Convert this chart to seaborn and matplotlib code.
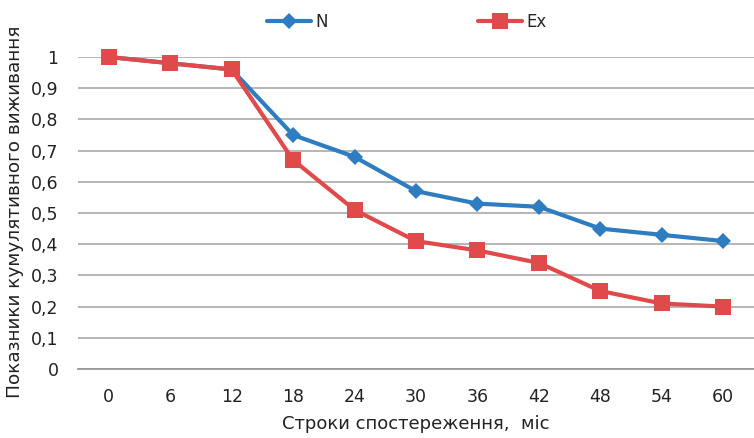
import matplotlib
matplotlib.use("Agg")
import matplotlib.pyplot as plt
import seaborn as sns
import pandas as pd
import numpy as np

months = ["0", "6", "12", "18", "24", "30", "36", "42", "48", "54", "60"]
n_values = [1.00, 0.98, 0.96, 0.75, 0.68, 0.57, 0.53, 0.52, 0.45, 0.43, 0.41]
ex_values = [1.00, 0.98, 0.96, 0.67, 0.51, 0.41, 0.38, 0.34, 0.25, 0.21, 0.20]
y_ticks = [0, 0.1, 0.2, 0.3, 0.4, 0.5, 0.6, 0.7, 0.8, 0.9, 1.0]
y_tick_labels = ["0", "0,1", "0,2", "0,3", "0,4", "0,5", "0,6", "0,7", "0,8", "0,9", "1"]

sns.set_theme(style="white")
plt.rcParams['font.family'] = ['DejaVu Sans']

pos = np.arange(len(months))
df = pd.DataFrame({"pos": np.concatenate([pos, pos]),
                   "val": n_values + ex_values,
                   "series": ["N"] * len(months) + ["Ex"] * len(months)})

fig = plt.figure(figsize=(7.54, 4.38), dpi=100)
ax = fig.add_axes([78/754, 1 - 369/438, 1 - 78/754, (369 - 57)/438])

blue = "#2D7DC0"
red = "#E04A4A"
sns.lineplot(data=df[df.series == "N"], x="pos", y="val", ax=ax, color=blue,
             linewidth=3, marker="D", markersize=8, markeredgewidth=0, label="N", clip_on=False)
sns.lineplot(data=df[df.series == "Ex"], x="pos", y="val", ax=ax, color=red,
             linewidth=3, marker="s", markersize=11, markeredgewidth=0, label="Ex", clip_on=False)
ax.set_xlim(-0.5, len(months) - 0.5)
ax.set_ylim(0, 1)
ax.set_yticks(y_ticks)
ax.set_yticklabels(y_tick_labels, fontsize=12.5, color="#222222")
ax.set_xticks(pos)
ax.set_xticklabels(months, fontsize=12.5, color="#222222")
ax.set_xticks(np.arange(-0.5, len(months)), minor=True)
ax.tick_params(axis="x", which="major", length=0, pad=14)
ax.tick_params(axis="x", which="minor", length=6, width=1, color="#999999", direction="out")
ax.tick_params(axis="y", length=0, pad=14)
ax.yaxis.grid(True, color="#B0B0B0", linewidth=1.3)
ax.set_axisbelow(True)
for s in ["left", "right", "top"]:
    ax.spines[s].set_visible(False)
ax.spines["bottom"].set_color("#999999")
ax.spines["bottom"].set_linewidth(1.3)

ax.set_xlabel("Строки спостереження,  міс", fontsize=13, color="#222222", labelpad=6)
ax.set_ylabel("")
fig.text(15/754, 1 - 212/438, "Показники кумулятивного виживання", rotation=90,
         ha="center", va="center", fontsize=13.3, color="#222222")

ax.legend_.remove()
handles, labels = ax.get_legend_handles_labels()
fig.legend(handles, labels, loc="upper center", bbox_to_anchor=(0.54, 1.005), ncol=2,
           frameon=False, fontsize=12, handlelength=2.6, columnspacing=9.0, handletextpad=0.3)

fig.savefig("out.png", dpi=100)
